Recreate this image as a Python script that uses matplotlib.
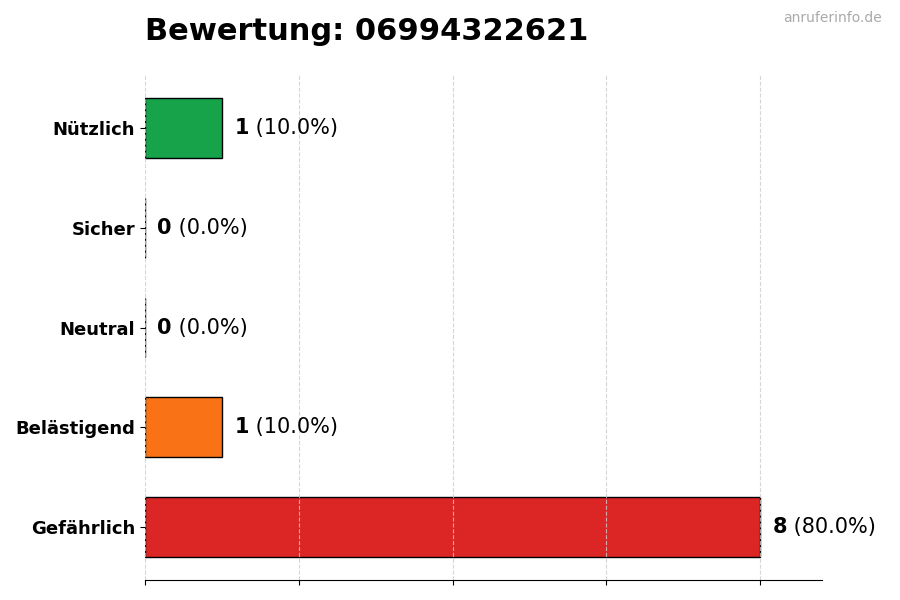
import matplotlib.pyplot as plt

# daten der bewertung
kategorien = ['Gefährlich', 'Belästigend', 'Neutral', 'Sicher', 'Nützlich']
anzahl = [8, 1, 0, 0, 1]
farben = ['#dc2626', '#f97316', '#6b7280', '#3b82f6', '#16a34a']
titel = 'Bewertung: 06994322621'

gesamt = sum(anzahl)

fig = plt.figure(figsize=(9, 6), dpi=100)
ax = fig.add_axes([0.161, 0.0333, 0.752, 0.8417])

ax.barh(kategorien, anzahl, height=0.6, color=farben, edgecolor='black', linewidth=1)

ax.set_xlim(0, max(anzahl) * 1.1)
ax.set_xticks([0, 2, 4, 6, 8])
ax.set_xticklabels([])
ax.grid(axis='x', linestyle='--', color='#cccccc', alpha=0.8)
ax.tick_params(axis='y', labelsize=13)
for lbl in ax.get_yticklabels():
    lbl.set_fontweight('bold')

for s in ['top', 'right', 'left']:
    ax.spines[s].set_visible(False)

# beschriftung neben den balken
for i, wert in enumerate(anzahl):
    prozent = wert / gesamt * 100
    t = ax.annotate(f'{wert}', (wert, i), xytext=(9, 0), textcoords='offset points',
                    va='center', ha='left', fontsize=15, fontweight='bold')
    ax.annotate(f' ({prozent:.1f}%)', (1, 0.5), xycoords=t, va='center', ha='left', fontsize=15)

fig.text(0.161, 0.947, titel, fontsize=22, fontweight='bold', ha='left', va='center')
fig.text(0.98, 0.97, 'anruferinfo.de', fontsize=10, color='#aaaaaa', ha='right', va='center')

fig.savefig('out.png')
